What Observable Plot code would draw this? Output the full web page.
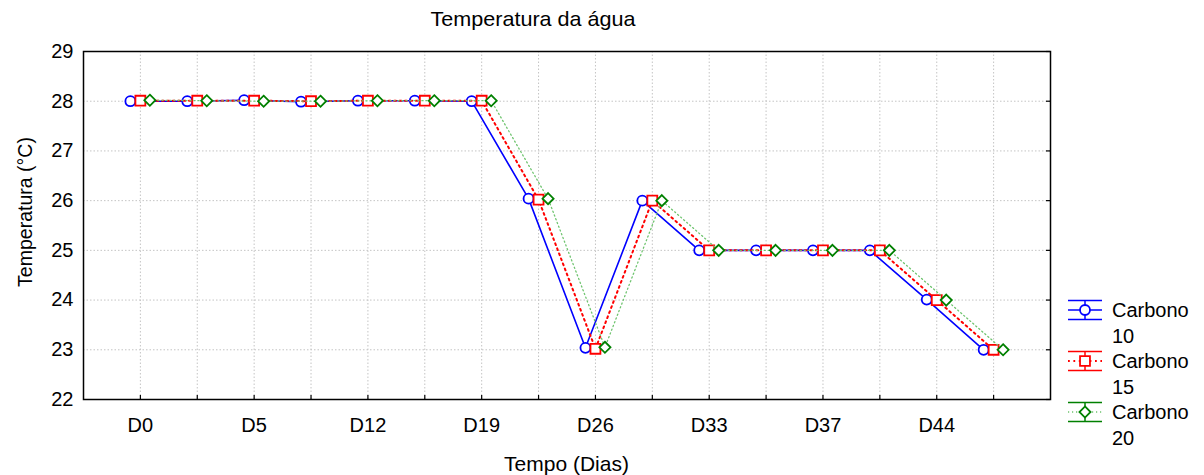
<!DOCTYPE html>
<html>
<head>
<meta charset="utf-8">
<script src="https://cdn.jsdelivr.net/npm/d3@7"></script>
<script src="https://cdn.jsdelivr.net/npm/@observablehq/plot@0.6"></script>
<style>
  html, body { margin: 0; padding: 0; background: #fff; }
  #wrap { position: relative; width: 1204px; height: 475px; font-family: "Liberation Sans", Arial, sans-serif; }
  #overlay { position: absolute; left: 0; top: 0; pointer-events: none; }
</style>
</head>
<body>
<div id="wrap"></div>
<script>
// ---- data ----
const title = "Temperatura da água";
const xLabel = "Tempo (Dias)";
const yLabel = "Temperatura (°C)";
const tickLabels = ["D0", "", "D5", "", "D12", "", "D19", "", "D26", "", "D33", "", "D37", "", "D44", ""];
const yTicks = [22, 23, 24, 25, 26, 27, 28, 29];
const seriesNames = ["Carbono 10", "Carbono 15", "Carbono 20"];
const carbono10 = [28.00, 28.00, 28.02, 27.99, 28.01, 28.01, 28.00, 26.04, 23.04, 26.00, 25.00, 25.00, 25.00, 25.00, 24.01, 23.00];
const carbono15 = [28.01, 28.01, 28.01, 28.00, 28.01, 28.01, 28.01, 26.02, 23.02, 26.00, 25.00, 25.00, 25.00, 25.00, 24.00, 23.00];
const carbono20 = [28.02, 28.01, 28.00, 28.00, 28.01, 28.01, 28.01, 26.04, 23.05, 26.00, 25.00, 25.00, 25.00, 25.00, 24.00, 23.00];

// ---- styles ----
const W = 1204, H = 475, mL = 83, mR = 154, mT = 51, mB = 76;
const pW = W - mL - mR, pH = H - mT - mB;
const styles = [
  {color: "#0000ff", lineColor: "#0000ff", dash: null, lw: 1.6, symbol: "circle", r: 5, dx: -10},
  {color: "#ff0000", lineColor: "#ff0000", dash: "1.8,3.6", lw: 2, symbol: "square", r: 5.6, dx: 0},
  {color: "#008000", lineColor: "#6fc46f", dash: "1.2,2.8", lw: 1.3, symbol: "diamond2", r: 5, dx: 9.5}
];
const allSeries = [carbono10, carbono15, carbono20];
const idx = d3.range(tickLabels.length);

const seriesMarks = allSeries.flatMap((vals, k) => {
  const st = styles[k];
  const rows = vals.map((v, i) => ({i, v}));
  return [
    Plot.line(rows, {x: "i", y: "v", dx: st.dx, stroke: st.lineColor, strokeWidth: st.lw, strokeDasharray: st.dash}),
    Plot.dot(rows, {x: "i", y: "v", dx: st.dx, symbol: st.symbol, r: st.r, stroke: st.color, fill: "white", strokeWidth: 1.8})
  ];
});

const chart = Plot.plot({
  width: W, height: H,
  marginLeft: mL, marginRight: mR, marginTop: mT, marginBottom: mB,
  style: {fontFamily: "'Liberation Sans', Arial, sans-serif", fontSize: "20px", color: "#000", background: "white", overflow: "visible"},
  x: {type: "linear", domain: [-1, 16]},
  y: {domain: [22, 29]},
  marks: [
    Plot.gridX(idx, {stroke: "#c4c4c4", strokeOpacity: 1, strokeDasharray: "1.5,2"}),
    Plot.gridY(yTicks, {stroke: "#c4c4c4", strokeOpacity: 1, strokeDasharray: "1.5,2"}),
    Plot.axisX(idx, {tickSize: 0, tickPadding: 18, tickFormat: i => tickLabels[i], label: null}),
    Plot.axisY(yTicks, {tickSize: 0, tickPadding: 10, tickFormat: d => String(d), label: null}),
    Plot.ruleX(idx, {x: d => d, insetTop: pH - 4, stroke: "black", strokeWidth: 1.2}),
    Plot.ruleY(yTicks, {y: d => d, insetLeft: pW - 4, stroke: "black", strokeWidth: 1.2}),
    ...seriesMarks,
    Plot.frame({stroke: "black", strokeWidth: 1.5})
  ]
});
const wrap = document.getElementById("wrap");
wrap.appendChild(chart);

// ---- overlay: title, axis labels, legend ----
const svg = d3.select(wrap).append("svg").attr("id", "overlay")
  .attr("width", W).attr("height", H)
  .style("font-family", "'Liberation Sans', Arial, sans-serif");

svg.append("text").attr("transform", "translate(533,26) scale(1.08,1)").attr("text-anchor", "middle")
  .attr("font-size", 20).text(title);
svg.append("text").attr("transform", `translate(${mL + pW / 2},471) scale(1.05,1)`).attr("text-anchor", "middle")
  .attr("font-size", 20).text(xLabel);
svg.append("text").attr("transform", "translate(31.5,212) rotate(-90)").attr("text-anchor", "middle")
  .attr("font-size", 19.5).text(yLabel);

const symPath = (name, r) => {
  const map = {circle: d3.symbolCircle, square: d3.symbolSquare, diamond2: d3.symbolDiamond2};
  return d3.symbol(map[name], Math.PI * r * r)();
};
seriesNames.forEach((name, k) => {
  const st = styles[k];
  const cy = 310 + k * 51;
  const g = svg.append("g");
  const x0 = 1068, x1 = 1102, xc = 1085;
  g.append("line").attr("x1", x0).attr("x2", x1).attr("y1", cy - 9.5).attr("y2", cy - 9.5).attr("stroke", st.color).attr("stroke-width", 1.5);
  g.append("line").attr("x1", x0).attr("x2", x1).attr("y1", cy + 9.5).attr("y2", cy + 9.5).attr("stroke", st.color).attr("stroke-width", 1.5);
  g.append("line").attr("x1", xc).attr("x2", xc).attr("y1", cy - 9.5).attr("y2", cy + 9.5).attr("stroke", st.color).attr("stroke-width", 1.5);
  g.append("line").attr("x1", x0).attr("x2", x1).attr("y1", cy).attr("y2", cy)
    .attr("stroke", st.lineColor).attr("stroke-width", st.lw).attr("stroke-dasharray", st.dash);
  g.append("path").attr("d", symPath(st.symbol, st.r)).attr("transform", `translate(${xc},${cy})`)
    .attr("fill", "white").attr("stroke", st.color).attr("stroke-width", 1.8);
  const parts = name.split(" ");
  g.append("text").attr("x", 1112).attr("y", cy + 7).attr("font-size", 20).text(parts[0]);
  g.append("text").attr("x", 1112).attr("y", cy + 33).attr("font-size", 20).text(parts[1]);
});
</script>
</body>
</html>
